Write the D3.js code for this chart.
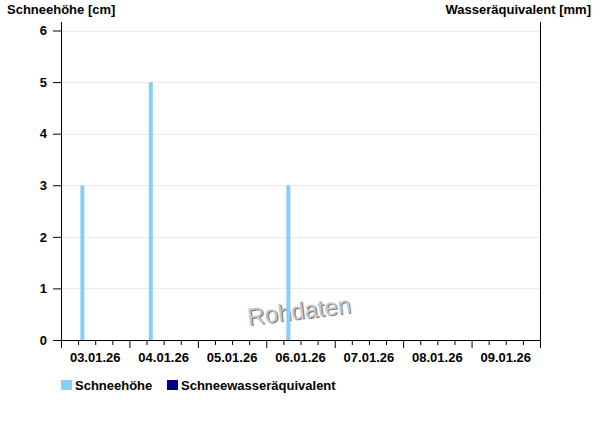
<!DOCTYPE html>
<html>
<head>
<meta charset="utf-8">
<script src="https://cdn.jsdelivr.net/npm/d3@7"></script>
<style>
  body { margin: 0; background: #fff; }
  text { font-family: "Liberation Sans", Arial, sans-serif; font-weight: bold; fill: #000; }
</style>
</head>
<body>
<div id="chart"></div>
<script>
// Daten
const messZeiten = ["2026-01-03T07:30", "2026-01-04T07:30", "2026-01-06T07:45"];
const schneehoehe = [3, 5, 3];           // cm
const wasserAequivalent = [];            // mm (keine Werte)
const yTicks = [0, 1, 2, 3, 4, 5, 6];
const tage = ["2026-01-03", "2026-01-04", "2026-01-05", "2026-01-06", "2026-01-07", "2026-01-08", "2026-01-09", "2026-01-10"];
const legende = ["Schneehöhe", "Schneewasseräquivalent"];
const farben = ["#87cefa", "#000080"];

const W = 600, H = 426;
const margin = {top: 22, right: 60, bottom: 86, left: 61};
const width = W - margin.left - margin.right;
const height = H - margin.top - margin.bottom;

const parse = d3.timeParse("%Y-%m-%dT%H:%M");
const parseDay = d3.timeParse("%Y-%m-%d");
const days = tage.map(parseDay);

const svg = d3.select("#chart").append("svg")
  .attr("width", W).attr("height", H);

const g = svg.append("g")
  .attr("transform", `translate(${margin.left},${margin.top})`);

// Skalen
const x = d3.scaleTime()
  .domain([days[0], days[days.length - 1]])
  .range([0, width]);

const y = d3.scaleLinear()
  .domain([0, 6])
  .range([height, 8.5]);

// Gitternetz
g.append("g").selectAll("line")
  .data(yTicks.slice(1))
  .join("line")
    .attr("x1", 0).attr("x2", width)
    .attr("y1", d => Math.round(y(d)) + 0.5)
    .attr("y2", d => Math.round(y(d)) + 0.5)
    .attr("stroke", "#ebebeb");

// Wasserzeichen (hinter den Balken)
const wm = g.append("g")
  .attr("transform", "translate(239,297) rotate(-7)")
  .attr("text-anchor", "middle");
wm.append("text").attr("x", 1).attr("y", 1).text("Rohdaten")
  .style("fill", "#777").style("font-weight", "normal").style("font-size", "24px");
wm.append("text").attr("x", 0).attr("y", 0).text("Rohdaten")
  .style("fill", "#c8c8c8").style("font-weight", "normal").style("font-size", "24px");

// Balken
const data = messZeiten.map((t, i) => ({t: parse(t), v: schneehoehe[i]}));
g.append("g").selectAll("rect")
  .data(data)
  .join("rect")
    .attr("x", d => x(d.t) - 2)
    .attr("width", 4)
    .attr("y", d => y(d.v))
    .attr("height", d => y(0) - y(d.v))
    .attr("fill", farben[0]);

// Y-Achse links
const yAxis = g.append("g")
  .call(d3.axisLeft(y).tickValues(yTicks).tickSize(8).tickPadding(6).tickFormat(d3.format("d")));
yAxis.select(".domain").attr("d", `M0.5,0V${height}`);
yAxis.selectAll("text").style("font-size", "13px");

// Y-Achse rechts
g.append("line")
  .attr("x1", width + 0.5).attr("x2", width + 0.5)
  .attr("y1", 0).attr("y2", height)
  .attr("stroke", "#000");

// X-Achse
const xAxis = g.append("g")
  .attr("transform", `translate(0,${height})`)
  .call(d3.axisBottom(x).ticks(d3.timeHour.every(6)).tickSize(5).tickFormat(""));
xAxis.select(".domain").attr("d", `M0,0.5H${width + 0.5}`);
xAxis.selectAll(".tick line")
  .attr("y2", d => d.getHours() === 0 ? 8 : 5);

g.append("g").selectAll("text")
  .data(days.slice(0, -1))
  .join("text")
    .attr("x", d => x(d3.timeHour.offset(d, 12)))
    .attr("y", height + 22)
    .attr("text-anchor", "middle")
    .style("font-size", "13px")
    .text(d3.timeFormat("%d.%m.%y"));

// Achsentitel
svg.append("text").attr("x", 7).attr("y", 14)
  .style("font-size", "13px").text("Schneehöhe [cm]");
svg.append("text").attr("x", 591).attr("y", 14)
  .attr("text-anchor", "end")
  .style("font-size", "13px").text("Wasseräquivalent [mm]");

// Legende
const leg = svg.append("g").attr("transform", "translate(61,380)");
const offs = [0, 106];
leg.selectAll("rect")
  .data(legende)
  .join("rect")
    .attr("x", (d, i) => offs[i])
    .attr("y", 0)
    .attr("width", 11).attr("height", 10)
    .attr("fill", (d, i) => farben[i]);
leg.selectAll("text")
  .data(legende)
  .join("text")
    .attr("x", (d, i) => offs[i] + 14)
    .attr("y", 10)
    .style("font-size", "13px")
    .text(d => d);
</script>
</body>
</html>
